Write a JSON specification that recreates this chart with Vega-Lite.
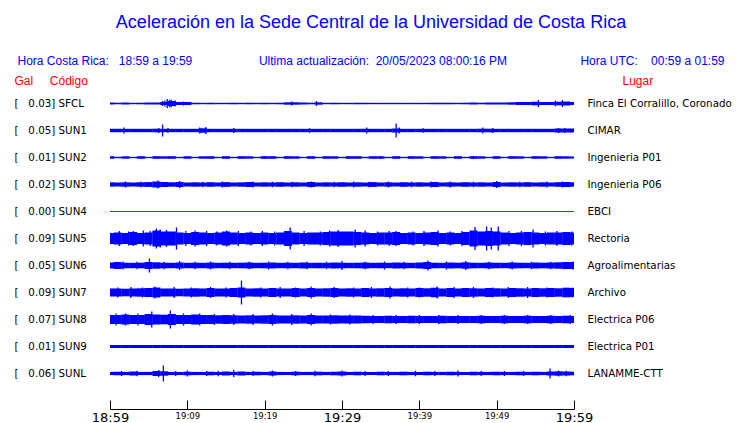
{
  "$schema": "https://vega.github.io/schema/vega-lite/v6.json",
  "width": 464,
  "height": 297,
  "autosize": {"type": "none"},
  "padding": {"left": 110, "top": 90, "right": 166, "bottom": 36},
  "background": "white",
  "title": {
    "text": "Aceleración en la Sede Central de la Universidad de Costa Rica",
    "subtitle": "Hora Costa Rica:\u00a0\u00a0\u00a018:59 a 19:59\u00a0\u00a0\u00a0\u00a0\u00a0\u00a0\u00a0\u00a0\u00a0\u00a0\u00a0\u00a0\u00a0\u00a0\u00a0\u00a0\u00a0\u00a0\u00a0\u00a0Ultima actualización:\u00a0\u00a020/05/2023 08:00:16 PM\u00a0\u00a0\u00a0\u00a0\u00a0\u00a0\u00a0\u00a0\u00a0\u00a0\u00a0\u00a0\u00a0\u00a0\u00a0\u00a0\u00a0\u00a0\u00a0\u00a0\u00a0\u00a0Hora UTC:\u00a0\u00a0\u00a0\u00a000:59 a 01:59\u00a0\u00a0\u00a0",
    "anchor": "middle",
    "frame": "group",
    "dx": 29,
    "offset": 8,
    "font": "Liberation Sans",
    "fontSize": 18,
    "fontWeight": "normal",
    "color": "#0000FF",
    "subtitleFont": "Liberation Sans",
    "subtitleFontSize": 12,
    "subtitleColor": "#0000FF",
    "subtitlePadding": 23.5
  },
  "datasets": {
    "st": [
      {"i": 0, "code": "SFCL", "gal": 0.03, "label": "[\u00a0\u00a0\u00a00.03] SFCL", "place": "Finca El Corralillo, Coronado"},
      {"i": 1, "code": "SUN1", "gal": 0.05, "label": "[\u00a0\u00a0\u00a00.05] SUN1", "place": "CIMAR"},
      {"i": 2, "code": "SUN2", "gal": 0.01, "label": "[\u00a0\u00a0\u00a00.01] SUN2", "place": "Ingenieria P01"},
      {"i": 3, "code": "SUN3", "gal": 0.02, "label": "[\u00a0\u00a0\u00a00.02] SUN3", "place": "Ingenieria P06"},
      {"i": 4, "code": "SUN4", "gal": 0.00, "label": "[\u00a0\u00a0\u00a00.00] SUN4", "place": "EBCI"},
      {"i": 5, "code": "SUN5", "gal": 0.09, "label": "[\u00a0\u00a0\u00a00.09] SUN5", "place": "Rectoria"},
      {"i": 6, "code": "SUN6", "gal": 0.05, "label": "[\u00a0\u00a0\u00a00.05] SUN6", "place": "Agroalimentarias"},
      {"i": 7, "code": "SUN7", "gal": 0.09, "label": "[\u00a0\u00a0\u00a00.09] SUN7", "place": "Archivo"},
      {"i": 8, "code": "SUN8", "gal": 0.07, "label": "[\u00a0\u00a0\u00a00.07] SUN8", "place": "Electrica P06"},
      {"i": 9, "code": "SUN9", "gal": 0.01, "label": "[\u00a0\u00a0\u00a00.01] SUN9", "place": "Electrica P01"},
      {"i": 10, "code": "SUNL", "gal": 0.06, "label": "[\u00a0\u00a0\u00a00.06] SUNL", "place": "LANAMME-CTT"}
    ],
    "env": [
      {"m":0,"SFCL":1.0,"SUN1":1.7,"SUN2":1.3,"SUN3":2.2,"SUN5":5.5,"SUN6":3.0,"SUN7":4.0,"SUN8":4.5,"SUN9":1.5,"SUNL":1.6},
      {"m":1,"SFCL":0.7,"SUN1":1.7,"SUN2":0.7,"SUN3":2.0,"SUN5":6.0,"SUN6":3.5,"SUN7":4.0,"SUN8":4.5,"SUN9":1.5,"SUNL":1.8},
      {"m":2,"SFCL":1.0,"SUN1":1.7,"SUN2":1.2,"SUN3":2.2,"SUN5":5.5,"SUN6":2.8,"SUN7":3.8,"SUN8":5.0,"SUN9":1.5,"SUNL":1.6},
      {"m":3,"SFCL":0.7,"SUN1":1.7,"SUN2":0.7,"SUN3":2.0,"SUN5":6.5,"SUN6":2.7,"SUN7":4.0,"SUN8":4.5,"SUN9":1.5,"SUNL":2.0},
      {"m":4,"SFCL":0.8,"SUN1":1.7,"SUN2":1.3,"SUN3":2.2,"SUN5":5.5,"SUN6":2.8,"SUN7":4.2,"SUN8":4.5,"SUN9":1.5,"SUNL":1.6},
      {"m":5,"SFCL":1.0,"SUN1":1.7,"SUN2":0.7,"SUN3":2.4,"SUN5":6.0,"SUN6":3.5,"SUN7":4.5,"SUN8":5.5,"SUN9":1.5,"SUNL":1.6},
      {"m":6,"SFCL":1.0,"SUN1":1.8,"SUN2":1.3,"SUN3":3.0,"SUN5":8.0,"SUN6":3.2,"SUN7":5.0,"SUN8":5.0,"SUN9":1.5,"SUNL":2.5},
      {"m":7,"SFCL":1.5,"SUN1":1.7,"SUN2":1.2,"SUN3":2.5,"SUN5":7.0,"SUN6":2.8,"SUN7":4.0,"SUN8":4.8,"SUN9":1.5,"SUNL":2.2},
      {"m":8,"SFCL":2.5,"SUN1":1.7,"SUN2":1.3,"SUN3":2.2,"SUN5":7.0,"SUN6":2.7,"SUN7":4.0,"SUN8":5.5,"SUN9":1.5,"SUNL":1.6},
      {"m":9,"SFCL":1.5,"SUN1":1.7,"SUN2":0.7,"SUN3":2.5,"SUN5":6.0,"SUN6":3.0,"SUN7":3.8,"SUN8":4.5,"SUN9":1.5,"SUNL":1.5},
      {"m":10,"SFCL":1.5,"SUN1":1.7,"SUN2":1.3,"SUN3":2.0,"SUN5":5.5,"SUN6":2.7,"SUN7":4.0,"SUN8":4.5,"SUN9":1.5,"SUNL":1.8},
      {"m":11,"SFCL":0.8,"SUN1":1.7,"SUN2":0.7,"SUN3":2.2,"SUN5":6.5,"SUN6":2.8,"SUN7":4.2,"SUN8":5.0,"SUN9":1.5,"SUNL":1.6},
      {"m":12,"SFCL":0.7,"SUN1":2.2,"SUN2":1.2,"SUN3":2.0,"SUN5":6.0,"SUN6":2.7,"SUN7":4.0,"SUN8":4.5,"SUN9":1.5,"SUNL":1.5},
      {"m":13,"SFCL":0.8,"SUN1":1.7,"SUN2":1.3,"SUN3":2.3,"SUN5":5.5,"SUN6":3.0,"SUN7":4.5,"SUN8":4.5,"SUN9":1.5,"SUNL":1.8},
      {"m":14,"SFCL":0.7,"SUN1":1.7,"SUN2":0.7,"SUN3":2.0,"SUN5":6.0,"SUN6":2.7,"SUN7":4.0,"SUN8":4.2,"SUN9":1.5,"SUNL":1.5},
      {"m":15,"SFCL":0.7,"SUN1":1.7,"SUN2":1.3,"SUN3":2.4,"SUN5":7.0,"SUN6":2.8,"SUN7":4.0,"SUN8":4.5,"SUN9":1.5,"SUNL":2.0},
      {"m":16,"SFCL":0.8,"SUN1":1.7,"SUN2":0.7,"SUN3":2.0,"SUN5":6.0,"SUN6":2.7,"SUN7":4.5,"SUN8":4.2,"SUN9":1.5,"SUNL":1.6},
      {"m":17,"SFCL":0.7,"SUN1":1.7,"SUN2":1.3,"SUN3":2.2,"SUN5":5.5,"SUN6":2.8,"SUN7":5.0,"SUN8":4.0,"SUN9":1.5,"SUNL":2.0},
      {"m":18,"SFCL":0.8,"SUN1":1.7,"SUN2":1.2,"SUN3":2.5,"SUN5":6.0,"SUN6":3.0,"SUN7":4.0,"SUN8":4.2,"SUN9":1.5,"SUNL":1.6},
      {"m":19,"SFCL":0.7,"SUN1":1.7,"SUN2":0.7,"SUN3":2.0,"SUN5":5.5,"SUN6":2.7,"SUN7":4.2,"SUN8":4.0,"SUN9":1.5,"SUNL":1.8},
      {"m":20,"SFCL":0.8,"SUN1":1.7,"SUN2":1.3,"SUN3":2.2,"SUN5":6.0,"SUN6":2.8,"SUN7":4.0,"SUN8":4.2,"SUN9":1.5,"SUNL":1.6},
      {"m":21,"SFCL":0.7,"SUN1":1.7,"SUN2":1.3,"SUN3":2.0,"SUN5":5.5,"SUN6":3.0,"SUN7":4.5,"SUN8":4.5,"SUN9":1.5,"SUNL":2.0},
      {"m":22,"SFCL":0.8,"SUN1":1.7,"SUN2":0.7,"SUN3":2.3,"SUN5":6.0,"SUN6":2.7,"SUN7":4.0,"SUN8":4.0,"SUN9":1.5,"SUNL":1.6},
      {"m":23,"SFCL":1.2,"SUN1":1.7,"SUN2":1.3,"SUN3":2.0,"SUN5":7.5,"SUN6":2.8,"SUN7":4.0,"SUN8":4.0,"SUN9":1.5,"SUNL":1.5},
      {"m":24,"SFCL":1.2,"SUN1":1.7,"SUN2":1.2,"SUN3":2.2,"SUN5":6.0,"SUN6":2.7,"SUN7":4.5,"SUN8":4.2,"SUN9":1.5,"SUNL":1.8},
      {"m":25,"SFCL":1.0,"SUN1":1.7,"SUN2":0.7,"SUN3":2.0,"SUN5":5.5,"SUN6":3.0,"SUN7":4.0,"SUN8":4.0,"SUN9":1.5,"SUNL":1.6},
      {"m":26,"SFCL":0.8,"SUN1":1.7,"SUN2":1.3,"SUN3":2.5,"SUN5":6.0,"SUN6":2.7,"SUN7":4.5,"SUN8":4.5,"SUN9":1.5,"SUNL":1.6},
      {"m":27,"SFCL":1.2,"SUN1":1.7,"SUN2":0.7,"SUN3":2.0,"SUN5":6.0,"SUN6":2.8,"SUN7":4.0,"SUN8":4.0,"SUN9":1.5,"SUNL":1.8},
      {"m":28,"SFCL":0.7,"SUN1":1.7,"SUN2":1.3,"SUN3":2.2,"SUN5":6.5,"SUN6":2.7,"SUN7":4.2,"SUN8":4.0,"SUN9":1.5,"SUNL":1.6},
      {"m":29,"SFCL":0.8,"SUN1":1.7,"SUN2":1.2,"SUN3":2.0,"SUN5":7.0,"SUN6":3.0,"SUN7":4.5,"SUN8":4.2,"SUN9":1.5,"SUNL":1.8},
      {"m":30,"SFCL":0.7,"SUN1":1.7,"SUN2":0.7,"SUN3":2.3,"SUN5":7.0,"SUN6":2.8,"SUN7":4.0,"SUN8":4.0,"SUN9":1.5,"SUNL":2.0},
      {"m":31,"SFCL":0.7,"SUN1":1.7,"SUN2":1.3,"SUN3":2.0,"SUN5":7.0,"SUN6":2.7,"SUN7":4.2,"SUN8":4.0,"SUN9":1.5,"SUNL":1.6},
      {"m":32,"SFCL":0.8,"SUN1":1.7,"SUN2":1.3,"SUN3":2.2,"SUN5":6.5,"SUN6":2.8,"SUN7":4.0,"SUN8":4.0,"SUN9":1.5,"SUNL":1.8},
      {"m":33,"SFCL":0.7,"SUN1":1.8,"SUN2":0.7,"SUN3":2.0,"SUN5":6.0,"SUN6":3.0,"SUN7":4.5,"SUN8":3.8,"SUN9":1.5,"SUNL":1.6},
      {"m":34,"SFCL":0.7,"SUN1":1.7,"SUN2":1.3,"SUN3":2.4,"SUN5":5.5,"SUN6":2.7,"SUN7":4.0,"SUN8":3.5,"SUN9":1.5,"SUNL":1.5},
      {"m":35,"SFCL":0.7,"SUN1":1.7,"SUN2":1.2,"SUN3":2.0,"SUN5":6.0,"SUN6":2.8,"SUN7":4.2,"SUN8":3.5,"SUN9":1.5,"SUNL":1.8},
      {"m":36,"SFCL":0.7,"SUN1":1.7,"SUN2":0.7,"SUN3":2.2,"SUN5":6.0,"SUN6":2.7,"SUN7":4.5,"SUN8":3.8,"SUN9":1.5,"SUNL":1.6},
      {"m":37,"SFCL":0.7,"SUN1":2.0,"SUN2":1.3,"SUN3":2.0,"SUN5":6.5,"SUN6":3.0,"SUN7":4.0,"SUN8":3.5,"SUN9":1.5,"SUNL":1.6},
      {"m":38,"SFCL":0.7,"SUN1":1.7,"SUN2":0.7,"SUN3":2.3,"SUN5":5.5,"SUN6":2.8,"SUN7":4.2,"SUN8":3.5,"SUN9":1.5,"SUNL":1.8},
      {"m":39,"SFCL":0.7,"SUN1":1.7,"SUN2":1.3,"SUN3":2.0,"SUN5":6.0,"SUN6":2.7,"SUN7":4.0,"SUN8":3.8,"SUN9":1.5,"SUNL":1.6},
      {"m":40,"SFCL":0.7,"SUN1":1.7,"SUN2":1.2,"SUN3":2.2,"SUN5":5.5,"SUN6":3.0,"SUN7":4.5,"SUN8":3.5,"SUN9":1.5,"SUNL":1.5},
      {"m":41,"SFCL":0.7,"SUN1":1.7,"SUN2":0.7,"SUN3":2.0,"SUN5":6.0,"SUN6":3.5,"SUN7":4.2,"SUN8":3.5,"SUN9":1.5,"SUNL":1.8},
      {"m":42,"SFCL":0.8,"SUN1":1.7,"SUN2":1.3,"SUN3":2.5,"SUN5":6.5,"SUN6":2.8,"SUN7":4.8,"SUN8":3.5,"SUN9":1.5,"SUNL":1.6},
      {"m":43,"SFCL":0.8,"SUN1":1.7,"SUN2":1.2,"SUN3":2.0,"SUN5":5.5,"SUN6":2.7,"SUN7":4.0,"SUN8":3.8,"SUN9":1.5,"SUNL":1.6},
      {"m":44,"SFCL":0.8,"SUN1":1.7,"SUN2":0.7,"SUN3":2.2,"SUN5":6.0,"SUN6":3.0,"SUN7":4.5,"SUN8":3.5,"SUN9":1.5,"SUNL":1.8},
      {"m":45,"SFCL":0.7,"SUN1":1.7,"SUN2":1.3,"SUN3":2.0,"SUN5":5.5,"SUN6":2.8,"SUN7":4.0,"SUN8":3.5,"SUN9":1.5,"SUNL":1.6},
      {"m":46,"SFCL":0.8,"SUN1":1.7,"SUN2":0.7,"SUN3":2.3,"SUN5":6.5,"SUN6":3.2,"SUN7":4.5,"SUN8":3.5,"SUN9":1.5,"SUNL":1.5},
      {"m":47,"SFCL":1.0,"SUN1":1.7,"SUN2":1.3,"SUN3":2.0,"SUN5":8.0,"SUN6":2.8,"SUN7":4.2,"SUN8":3.5,"SUN9":1.5,"SUNL":1.8},
      {"m":48,"SFCL":0.8,"SUN1":1.8,"SUN2":1.2,"SUN3":2.2,"SUN5":7.0,"SUN6":2.7,"SUN7":4.0,"SUN8":3.8,"SUN9":1.5,"SUNL":1.6},
      {"m":49,"SFCL":1.0,"SUN1":1.8,"SUN2":0.7,"SUN3":2.0,"SUN5":7.5,"SUN6":3.0,"SUN7":4.5,"SUN8":3.5,"SUN9":1.5,"SUNL":1.6},
      {"m":50,"SFCL":1.0,"SUN1":1.7,"SUN2":1.3,"SUN3":2.5,"SUN5":7.0,"SUN6":2.8,"SUN7":4.2,"SUN8":3.5,"SUN9":1.5,"SUNL":1.8},
      {"m":51,"SFCL":1.0,"SUN1":1.7,"SUN2":0.7,"SUN3":2.0,"SUN5":6.0,"SUN6":2.7,"SUN7":4.0,"SUN8":3.8,"SUN9":1.5,"SUNL":1.6},
      {"m":52,"SFCL":1.2,"SUN1":1.7,"SUN2":1.3,"SUN3":2.2,"SUN5":5.5,"SUN6":3.0,"SUN7":4.5,"SUN8":3.5,"SUN9":1.5,"SUNL":1.6},
      {"m":53,"SFCL":1.5,"SUN1":1.7,"SUN2":1.2,"SUN3":2.0,"SUN5":6.0,"SUN6":2.8,"SUN7":4.2,"SUN8":3.5,"SUN9":1.5,"SUNL":1.8},
      {"m":54,"SFCL":1.5,"SUN1":1.7,"SUN2":0.7,"SUN3":2.3,"SUN5":6.5,"SUN6":2.7,"SUN7":4.0,"SUN8":3.8,"SUN9":1.5,"SUNL":1.6},
      {"m":55,"SFCL":1.8,"SUN1":1.7,"SUN2":1.3,"SUN3":2.0,"SUN5":6.0,"SUN6":3.0,"SUN7":4.5,"SUN8":3.5,"SUN9":1.5,"SUNL":1.8},
      {"m":56,"SFCL":1.5,"SUN1":1.7,"SUN2":1.2,"SUN3":2.2,"SUN5":5.5,"SUN6":2.8,"SUN7":4.2,"SUN8":3.5,"SUN9":1.5,"SUNL":1.6},
      {"m":57,"SFCL":1.5,"SUN1":1.7,"SUN2":0.7,"SUN3":2.0,"SUN5":6.0,"SUN6":3.0,"SUN7":4.5,"SUN8":3.8,"SUN9":1.5,"SUNL":2.0},
      {"m":58,"SFCL":1.8,"SUN1":2.0,"SUN2":1.3,"SUN3":2.3,"SUN5":6.0,"SUN6":3.2,"SUN7":4.2,"SUN8":3.5,"SUN9":1.5,"SUNL":2.2},
      {"m":59,"SFCL":2.0,"SUN1":2.0,"SUN2":1.2,"SUN3":2.5,"SUN5":6.5,"SUN6":3.5,"SUN7":4.8,"SUN8":3.8,"SUN9":1.5,"SUNL":2.0},
      {"m":60,"SFCL":1.5,"SUN1":2.0,"SUN2":1.0,"SUN3":2.2,"SUN5":6.0,"SUN6":3.5,"SUN7":4.5,"SUN8":3.5,"SUN9":1.5,"SUNL":1.8}
    ],
    "spk": [
      {"code":"SFCL","m":6.8,"a":2.5},{"code":"SFCL","m":7.1,"a":3},{"code":"SFCL","m":7.4,"a":4.5},{"code":"SFCL","m":7.7,"a":3.5},{"code":"SFCL","m":7.9,"a":4},{"code":"SFCL","m":8.4,"a":3},{"code":"SFCL","m":9.5,"a":2},{"code":"SFCL","m":23.5,"a":2},{"code":"SFCL","m":26.7,"a":2.5},{"code":"SFCL","m":55.4,"a":3.5},{"code":"SFCL","m":57.6,"a":2.8},{"code":"SFCL","m":58.5,"a":3.5},
      {"code":"SUN1","m":1.8,"a":3},{"code":"SUN1","m":6.3,"a":2.5},{"code":"SUN1","m":6.8,"a":6},{"code":"SUN1","m":7.5,"a":2.5},{"code":"SUN1","m":11.6,"a":3},{"code":"SUN1","m":12.4,"a":3.5},{"code":"SUN1","m":16.0,"a":2.5},{"code":"SUN1","m":25.8,"a":2.3},{"code":"SUN1","m":33.2,"a":3},{"code":"SUN1","m":37.0,"a":7},{"code":"SUN1","m":37.4,"a":3},{"code":"SUN1","m":40.5,"a":2.3},{"code":"SUN1","m":48.2,"a":3},{"code":"SUN1","m":49.5,"a":2.5},{"code":"SUN1","m":58.0,"a":2.5},{"code":"SUN1","m":58.8,"a":2.5},
      {"code":"SUN2","m":20,"a":1.6},{"code":"SUN2","m":35,"a":1.6},{"code":"SUN2","m":47,"a":1.6},
      {"code":"SUN3","m":2,"a":3},{"code":"SUN3","m":4,"a":2.8},{"code":"SUN3","m":6.2,"a":4},{"code":"SUN3","m":9.0,"a":3.5},{"code":"SUN3","m":12,"a":2.8},{"code":"SUN3","m":14.5,"a":3},{"code":"SUN3","m":18.5,"a":3},{"code":"SUN3","m":21,"a":2.8},{"code":"SUN3","m":23.5,"a":2.8},{"code":"SUN3","m":26,"a":3},{"code":"SUN3","m":29,"a":2.8},{"code":"SUN3","m":31.5,"a":3},{"code":"SUN3","m":33.5,"a":2.8},{"code":"SUN3","m":36,"a":3},{"code":"SUN3","m":39,"a":2.8},{"code":"SUN3","m":41.5,"a":3},{"code":"SUN3","m":44,"a":3},{"code":"SUN3","m":47,"a":2.8},{"code":"SUN3","m":50,"a":3.5},{"code":"SUN3","m":53,"a":2.8},{"code":"SUN3","m":56.5,"a":3},{"code":"SUN3","m":58.5,"a":3},
      {"code":"SUN5","m":1.2,"a":7.5},{"code":"SUN5","m":2.4,"a":7},{"code":"SUN5","m":3,"a":7.5},{"code":"SUN5","m":4.3,"a":8},{"code":"SUN5","m":5.2,"a":7.5},{"code":"SUN5","m":6,"a":10},{"code":"SUN5","m":6.5,"a":9},{"code":"SUN5","m":7.3,"a":8.5},{"code":"SUN5","m":8.6,"a":11},{"code":"SUN5","m":9.8,"a":7.5},{"code":"SUN5","m":11,"a":8},{"code":"SUN5","m":12.5,"a":7.5},{"code":"SUN5","m":13.8,"a":7},{"code":"SUN5","m":15.1,"a":8},{"code":"SUN5","m":16.6,"a":7.5},{"code":"SUN5","m":18.2,"a":7},{"code":"SUN5","m":19.7,"a":7.5},{"code":"SUN5","m":21.3,"a":7},{"code":"SUN5","m":23.3,"a":11},{"code":"SUN5","m":25.1,"a":7.5},{"code":"SUN5","m":27.2,"a":7},{"code":"SUN5","m":28.4,"a":8},{"code":"SUN5","m":29.5,"a":8.5},{"code":"SUN5","m":31.7,"a":9},{"code":"SUN5","m":33,"a":8},{"code":"SUN5","m":34.6,"a":7},{"code":"SUN5","m":36.1,"a":7.5},{"code":"SUN5","m":37,"a":7.5},{"code":"SUN5","m":39.2,"a":7},{"code":"SUN5","m":40.6,"a":7.5},{"code":"SUN5","m":42.4,"a":8},{"code":"SUN5","m":44.0,"a":7},{"code":"SUN5","m":45.5,"a":7.5},{"code":"SUN5","m":47.2,"a":11.5},{"code":"SUN5","m":48.7,"a":12},{"code":"SUN5","m":49.3,"a":11},{"code":"SUN5","m":50.2,"a":12},{"code":"SUN5","m":51.6,"a":7.5},{"code":"SUN5","m":53.2,"a":7.5},{"code":"SUN5","m":54.7,"a":9},{"code":"SUN5","m":56.3,"a":7},{"code":"SUN5","m":57.8,"a":7.5},{"code":"SUN5","m":59.7,"a":7},
      {"code":"SUN6","m":1.7,"a":4},{"code":"SUN6","m":3.5,"a":3.8},{"code":"SUN6","m":5.1,"a":7},{"code":"SUN6","m":7,"a":3.8},{"code":"SUN6","m":9,"a":4.5},{"code":"SUN6","m":11,"a":3.8},{"code":"SUN6","m":13,"a":4},{"code":"SUN6","m":15.5,"a":3.8},{"code":"SUN6","m":18,"a":3.8},{"code":"SUN6","m":20.5,"a":4},{"code":"SUN6","m":23,"a":3.8},{"code":"SUN6","m":25.5,"a":3.8},{"code":"SUN6","m":28,"a":3.8},{"code":"SUN6","m":30,"a":4.5},{"code":"SUN6","m":33,"a":3.8},{"code":"SUN6","m":35.5,"a":4},{"code":"SUN6","m":38,"a":3.8},{"code":"SUN6","m":41.1,"a":5},{"code":"SUN6","m":43.5,"a":4},{"code":"SUN6","m":46,"a":4.5},{"code":"SUN6","m":49,"a":3.8},{"code":"SUN6","m":52,"a":4},{"code":"SUN6","m":54.5,"a":3.8},{"code":"SUN6","m":57,"a":3.8},{"code":"SUN6","m":59.9,"a":4},
      {"code":"SUN7","m":1,"a":5},{"code":"SUN7","m":2.7,"a":5.5},{"code":"SUN7","m":4.2,"a":5},{"code":"SUN7","m":5.8,"a":6},{"code":"SUN7","m":8.3,"a":5.5},{"code":"SUN7","m":10.5,"a":5},{"code":"SUN7","m":13,"a":5.5},{"code":"SUN7","m":15,"a":5},{"code":"SUN7","m":17,"a":12},{"code":"SUN7","m":19.5,"a":5},{"code":"SUN7","m":22,"a":5.5},{"code":"SUN7","m":24,"a":5},{"code":"SUN7","m":26,"a":6},{"code":"SUN7","m":29,"a":5.5},{"code":"SUN7","m":31.5,"a":5},{"code":"SUN7","m":33.8,"a":5.5},{"code":"SUN7","m":36.2,"a":6},{"code":"SUN7","m":38.5,"a":5},{"code":"SUN7","m":40,"a":5},{"code":"SUN7","m":42.3,"a":6},{"code":"SUN7","m":44.5,"a":5.5},{"code":"SUN7","m":47,"a":5.5},{"code":"SUN7","m":49.5,"a":5},{"code":"SUN7","m":51.5,"a":5.5},{"code":"SUN7","m":54,"a":5.5},{"code":"SUN7","m":56.5,"a":5},{"code":"SUN7","m":59.8,"a":5},
      {"code":"SUN8","m":0.8,"a":6},{"code":"SUN8","m":2,"a":6},{"code":"SUN8","m":3.6,"a":6},{"code":"SUN8","m":5.4,"a":8},{"code":"SUN8","m":7.8,"a":9},{"code":"SUN8","m":9.5,"a":6},{"code":"SUN8","m":11.6,"a":6},{"code":"SUN8","m":13.5,"a":5.5},{"code":"SUN8","m":16,"a":5.5},{"code":"SUN8","m":18.5,"a":5.5},{"code":"SUN8","m":21,"a":6},{"code":"SUN8","m":23.5,"a":5.5},{"code":"SUN8","m":26,"a":6},{"code":"SUN8","m":28.5,"a":5},{"code":"SUN8","m":31,"a":5},{"code":"SUN8","m":34,"a":4.5},{"code":"SUN8","m":37,"a":4.5},{"code":"SUN8","m":40,"a":4.5},{"code":"SUN8","m":42.5,"a":4.5},{"code":"SUN8","m":45,"a":4.5},{"code":"SUN8","m":48,"a":4.5},{"code":"SUN8","m":51,"a":4.5},{"code":"SUN8","m":54,"a":4.5},{"code":"SUN8","m":57,"a":4.5},{"code":"SUN8","m":59.5,"a":4.5},
      {"code":"SUNL","m":1.5,"a":2.5},{"code":"SUNL","m":3.5,"a":2.8},{"code":"SUNL","m":6.3,"a":3.5},{"code":"SUNL","m":6.9,"a":8},{"code":"SUNL","m":8.5,"a":2.5},{"code":"SUNL","m":10,"a":3},{"code":"SUNL","m":12.5,"a":2.5},{"code":"SUNL","m":14,"a":2.8},{"code":"SUNL","m":16,"a":3.5},{"code":"SUNL","m":18.5,"a":2.5},{"code":"SUNL","m":21,"a":3},{"code":"SUNL","m":24,"a":2.5},{"code":"SUNL","m":26.5,"a":2.8},{"code":"SUNL","m":30,"a":3},{"code":"SUNL","m":33,"a":2.5},{"code":"SUNL","m":36,"a":2.5},{"code":"SUNL","m":39.5,"a":2.8},{"code":"SUNL","m":42,"a":2.5},{"code":"SUNL","m":45,"a":3},{"code":"SUNL","m":48,"a":2.5},{"code":"SUNL","m":51,"a":2.5},{"code":"SUNL","m":53.5,"a":2.5},{"code":"SUNL","m":56.9,"a":5},{"code":"SUNL","m":58,"a":3},{"code":"SUNL","m":59,"a":2.8}
    ]
  },
  "layer": [
    {
      "encoding": {
        "y": {
          "field": "label",
          "type": "nominal",
          "sort": {"field": "i", "op": "min"},
          "scale": {"paddingInner": 0, "paddingOuter": 0},
          "axis": {
            "orient": "left",
            "domain": false,
            "ticks": false,
            "tickSize": 0,
            "labelAlign": "left",
            "labelBaseline": "middle",
            "labelPadding": 96,
            "labelFont": "DejaVu Sans",
            "labelFontSize": 10.3,
            "labelColor": "#000000",
            "labelLimit": 200,
            "title": "Gal\u00a0\u00a0\u00a0\u00a0\u00a0Código",
            "titleAngle": 0,
            "titleAlign": "left",
            "titleBaseline": "alphabetic",
            "titleX": -96,
            "titleY": -5.5,
            "titleFont": "Liberation Sans",
            "titleFontSize": 12,
            "titleFontWeight": "normal",
            "titleColor": "#FF0000"
          }
        }
      },
      "layer": [
        {
          "data": {"name": "st"},
          "transform": [{"filter": "datum.code === 'SUN4'"}],
          "mark": {"type": "rule", "color": "#FF0000", "strokeWidth": 1},
          "encoding": {
            "x": {"datum": 0, "type": "quantitative"},
            "x2": {"datum": 60}
          }
        },
        {
          "data": {"name": "env"},
          "transform": [
            {"fold": ["SFCL", "SUN1", "SUN2", "SUN3", "SUN5", "SUN6", "SUN7", "SUN8", "SUN9", "SUNL"], "as": ["code", "a"]},
            {"lookup": "code", "from": {"data": {"name": "st"}, "key": "code", "fields": ["label", "i"]}}
          ],
          "mark": {"type": "tick", "color": "#0000FF", "thickness": 8, "opacity": 1, "clip": true},
          "encoding": {
            "x": {
              "field": "m",
              "type": "quantitative",
              "scale": {"domain": [0, 60], "nice": false, "zero": false},
              "axis": {
                "orient": "bottom",
                "offset": 22,
                "values": [0, 5, 10, 15, 20, 25, 30, 35, 40, 45, 50, 55, 60],
                "grid": false,
                "domain": true,
                "domainColor": "#000000",
                "domainWidth": 1,
                "ticks": true,
                "tickSize": -9,
                "tickColor": "#000000",
                "tickWidth": 1,
                "labelPadding": 11,
                "labelFlush": false,
                "labelOverlap": false,
                "labelBaseline": "top",
                "labelFont": "DejaVu Sans",
                "labelColor": "#000000",
                "labelFontSize": {"condition": {"test": "datum.value % 30 === 0", "value": 13}, "value": 8.5},
                "labelExpr": "datum.value % 10 === 0 ? ['18:59','19:09','19:19','19:29','19:39','19:49','19:59'][datum.value / 10] : ''",
                "title": null
              }
            },
            "size": {"field": "a", "type": "quantitative", "scale": {"domain": [0, 13.5], "range": [0, 27]}, "legend": null}
          }
        },
        {
          "data": {"name": "spk"},
          "transform": [
            {"lookup": "code", "from": {"data": {"name": "st"}, "key": "code", "fields": ["label", "i"]}}
          ],
          "mark": {"type": "tick", "color": "#0000FF", "thickness": 1.3, "opacity": 1, "clip": true},
          "encoding": {
            "x": {"field": "m", "type": "quantitative"},
            "size": {"field": "a", "type": "quantitative", "legend": null}
          }
        }
      ]
    },
    {
      "data": {"name": "st"},
      "mark": {"type": "tick", "opacity": 0},
      "encoding": {
        "x": {"datum": 30, "type": "quantitative"},
        "y": {
          "field": "place",
          "type": "nominal",
          "sort": {"field": "i", "op": "min"},
          "scale": {"paddingInner": 0, "paddingOuter": 0},
          "axis": {
            "orient": "right",
            "domain": false,
            "ticks": false,
            "tickSize": 0,
            "labelAlign": "left",
            "labelBaseline": "middle",
            "labelPadding": 13,
            "labelFont": "DejaVu Sans",
            "labelFontSize": 10.3,
            "labelColor": "#000000",
            "labelLimit": 200,
            "title": "Lugar",
            "titleAngle": 0,
            "titleAlign": "left",
            "titleBaseline": "alphabetic",
            "titleX": 48,
            "titleY": -5.5,
            "titleFont": "Liberation Sans",
            "titleFontSize": 12,
            "titleFontWeight": "normal",
            "titleColor": "#FF0000"
          }
        }
      }
    }
  ],
  "resolve": {"scale": {"y": "independent"}},
  "config": {
    "view": {"stroke": null},
    "axis": {"grid": false}
  }
}
